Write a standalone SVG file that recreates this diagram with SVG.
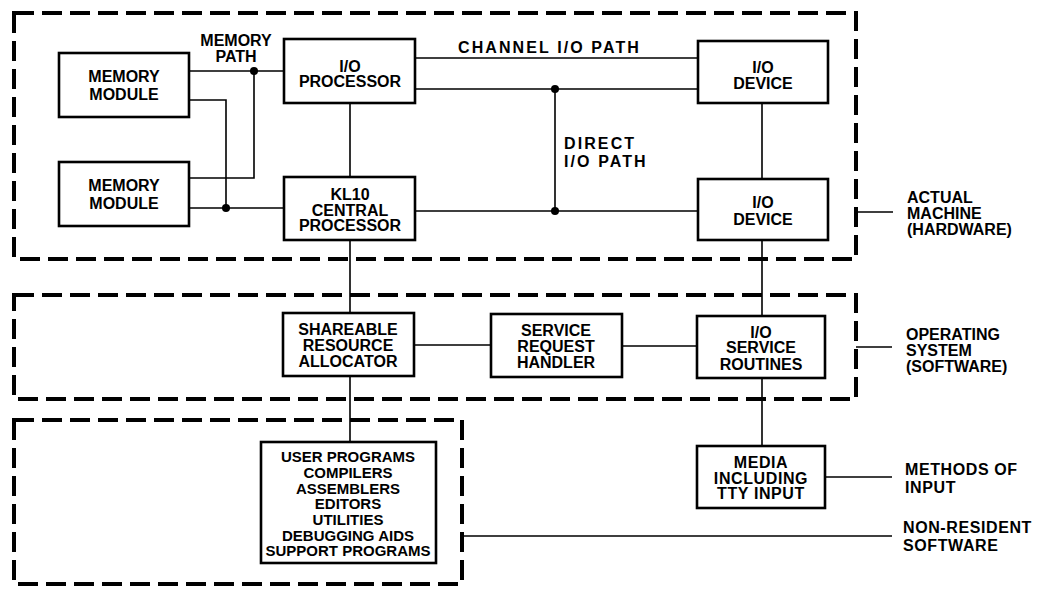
<svg xmlns="http://www.w3.org/2000/svg" width="1039" height="589" viewBox="0 0 1039 589">
<style>
.bg{fill:#fff}
.box{fill:#fff;stroke:#000;stroke-width:2.6}
.grp{fill:none;stroke:#000;stroke-width:4;stroke-dasharray:20 8}
.ln{fill:none;stroke:#000;stroke-width:1.6}
.dot{fill:#000}
text{font-family:"Liberation Sans",Arial,sans-serif;font-weight:bold;font-size:16px;fill:#000}
.c{text-anchor:middle}
.w{letter-spacing:2.1px}
.s{letter-spacing:0.6px}
.t{font-size:15px}
</style>
<rect class="bg" x="0" y="0" width="1039" height="589"/>
<g id="groups">
<rect class="grp" x="14" y="13" width="842" height="246"/>
<rect class="grp" x="14" y="295" width="842" height="104"/>
<rect class="grp" x="14" y="420" width="448" height="164"/>
</g>
<g id="connectors">
<path class="ln" d="M189 71H284M254 71V178H189M189 100H226V208M189 208H284"/>
<path class="ln" d="M415 58H698M415 89H698M555 89V211M415 211H698"/>
<path class="ln" d="M350 103V177M350 240V313M350 376V442M762 103V179M762 240V316M762 378V446"/>
<path class="ln" d="M414 345H491M622 346H697"/>
<path class="ln" d="M856 212H893M856 347H892M825 477H892M462 536H892"/>
<circle class="dot" cx="254" cy="71" r="4"/>
<circle class="dot" cx="226" cy="208" r="4"/>
<circle class="dot" cx="555" cy="89" r="4"/>
<circle class="dot" cx="555" cy="211" r="4"/>
</g>
<g id="mem1"><rect class="box" x="59" y="53" width="130" height="64"/><text class="c" x="124" y="82">MEMORY</text><text class="c" x="124" y="100">MODULE</text></g>
<g id="mem2"><rect class="box" x="59" y="162" width="130" height="64"/><text class="c" x="124" y="191">MEMORY</text><text class="c" x="124" y="209">MODULE</text></g>
<g id="iop"><rect class="box" x="284" y="39" width="131" height="64"/><text class="c" x="350" y="72">I/O</text><text class="c" x="350" y="87">PROCESSOR</text></g>
<g id="kl10"><rect class="box" x="284" y="177" width="131" height="63"/><text class="c" x="350" y="200">KL10</text><text class="c" x="350" y="216">CENTRAL</text><text class="c" x="350" y="231">PROCESSOR</text></g>
<g id="iodev1"><rect class="box" x="698" y="41" width="130" height="62"/><text class="c" x="763" y="73">I/O</text><text class="c" x="763" y="89">DEVICE</text></g>
<g id="iodev2"><rect class="box" x="698" y="179" width="130" height="61"/><text class="c" x="763" y="208">I/O</text><text class="c" x="763" y="225">DEVICE</text></g>
<g id="sra"><rect class="box" x="283" y="313" width="131" height="63"/><text class="c" x="348" y="335">SHAREABLE</text><text class="c" x="348" y="351">RESOURCE</text><text class="c" x="348" y="367">ALLOCATOR</text></g>
<g id="srh"><rect class="box" x="491" y="314" width="131" height="63"/><text class="c" x="556" y="336">SERVICE</text><text class="c" x="556" y="352">REQUEST</text><text class="c" x="556" y="368">HANDLER</text></g>
<g id="iosr"><rect class="box" x="697" y="316" width="128" height="62"/><text class="c" x="761" y="338">I/O</text><text class="c" x="761" y="353">SERVICE</text><text class="c" x="761" y="370">ROUTINES</text></g>
<g id="media"><rect class="box" x="697" y="446" width="128" height="62"/><text class="c s" x="761" y="468">MEDIA</text><text class="c s" x="761" y="484">INCLUDING</text><text class="c s" x="761" y="499">TTY INPUT</text></g>
<g id="progs"><rect class="box" x="261" y="442" width="175" height="121"/>
<text class="c t" x="348" y="462">USER PROGRAMS</text><text class="c t" x="348" y="478">COMPILERS</text><text class="c t" x="348" y="494">ASSEMBLERS</text><text class="c t" x="348" y="509">EDITORS</text><text class="c t" x="348" y="525">UTILITIES</text><text class="c t" x="348" y="541">DEBUGGING AIDS</text><text class="c t" x="348" y="556">SUPPORT PROGRAMS</text></g>
<g id="labels">
<text class="c" x="236" y="46">MEMORY</text><text class="c" x="236" y="62">PATH</text>
<text class="w" x="458" y="53">CHANNEL I/O PATH</text>
<text class="w" x="564" y="149">DIRECT</text><text class="w" x="564" y="167">I/O PATH</text>
<text x="907" y="203">ACTUAL</text><text x="907" y="219">MACHINE</text><text x="907" y="235">(HARDWARE)</text>
<text x="906" y="340">OPERATING</text><text x="906" y="356">SYSTEM</text><text x="906" y="372">(SOFTWARE)</text>
<text class="s" x="905" y="475">METHODS OF</text><text class="s" x="905" y="493">INPUT</text>
<text class="s" x="903" y="533">NON-RESIDENT</text><text class="s" x="903" y="551">SOFTWARE</text>
</g>
</svg>
